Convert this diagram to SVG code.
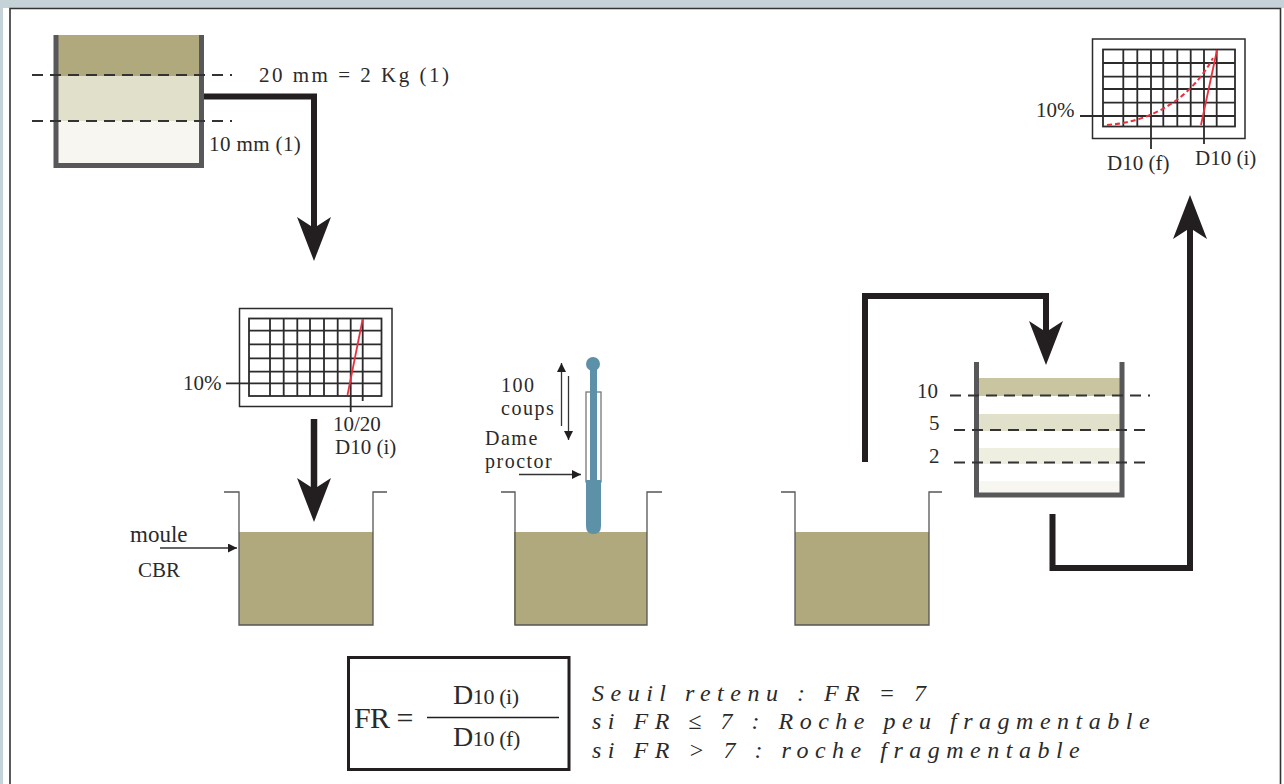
<svg xmlns="http://www.w3.org/2000/svg" width="1284" height="784" viewBox="0 0 1284 784">
<style>
text{font-family:"Liberation Serif","Times New Roman",serif;fill:#2a2a2a;font-size:21px}
.w{font-size:23px}
.n{font-size:20px;letter-spacing:1.500px}
.it{font-style:italic;font-size:24px;letter-spacing:6.500px}
.wall{fill:none;stroke:#58585a;stroke-width:5}
.dash{fill:none;stroke:#333;stroke-width:2;stroke-dasharray:11 7}
.conn{fill:none;stroke:#231f20;stroke-width:6}
.grid{fill:none;stroke:#2b2b2b;stroke-width:1.800}
.thin{fill:none;stroke:#333;stroke-width:1.300}
.mould{fill:none;stroke:#555;stroke-width:1.300}
.soil{fill:#b0a97e}
.red{fill:none;stroke:#e8303f;stroke-width:1.800}
</style>
<defs>
<marker id="big" markerUnits="userSpaceOnUse" markerWidth="44" markerHeight="34" refX="24" refY="17" orient="auto-start-reverse" viewBox="0 0 44 34"><path d="M0 0 L11 17 L0 34 L44 17 Z" fill="#231f20"/></marker>
<marker id="small" markerUnits="userSpaceOnUse" markerWidth="9" markerHeight="9" refX="8" refY="4" orient="auto-start-reverse" viewBox="0 0 8 8"><path d="M0 0 L8 4 L0 8 Z" fill="#231f20"/></marker>
</defs>
<rect width="1284" height="784" fill="#c5d3d9"/>
<rect x="3" y="8" width="1281" height="776" fill="#fff"/>
<path d="M10 784V8.500H1280.500V784" fill="none" stroke="#333" stroke-width="1.600"/>

<g id="sample-box">
<rect x="56" y="35" width="146" height="41" fill="#b0a97e"/>
<rect x="56" y="76" width="146" height="45" fill="#e1e1cb"/>
<rect x="56" y="121" width="146" height="44" fill="#f7f6f1"/>
<path class="wall" d="M56 35V165.500H201.500V35"/>
<path class="dash" d="M32 75H232M32 121H232"/>
<text x="259" y="82" style="letter-spacing:2.500px">20 mm = 2 Kg (1)</text>
<text x="209" y="151" style="letter-spacing:.4px">10 mm (1)</text>
</g>

<g id="chart-initial">
<rect x="239.500" y="308.500" width="152.500" height="98" fill="#fff" stroke="#2b2b2b" stroke-width="1.500"/>
<rect class="grid" x="249" y="318.500" width="132.500" height="77.500"/>
<path class="grid" d="M270 318.500V396M283.700 318.500V396M297.300 318.500V396M310 318.500V396M324 318.500V396M337.700 318.500V396M350.700 318.500V412M362.700 318.500V401M249 330.700H381.500M249 344.300H381.500M249 358.300H381.500M249 371.700H381.500M249 383.300H381.500M226 383.300H249"/>
<path class="red" d="M362.700 319L347.500 395"/>
<text x="183" y="390">10%</text>
<text x="333" y="431">10/20</text>
<text x="335" y="454">D10 (i)</text>
</g>

<g id="chart-final">
<rect x="1092.500" y="39" width="152.500" height="99.500" fill="#fff" stroke="#2b2b2b" stroke-width="1.500"/>
<rect class="grid" x="1103" y="49.500" width="132" height="77"/>
<path class="grid" d="M1123.300 49.500V126.500M1137.300 49.500V126.500M1151 49.500V149M1163.300 49.500V126.500M1177.300 49.500V126.500M1190.700 49.500V126.500M1204 49.500V144M1216.700 49.500V126.500M1103 63H1235M1103 76.700H1235M1103 89H1235M1103 102.700H1235M1080 116H1235"/>
<path class="red" d="M1217 50L1201 125"/>
<path class="red" style="stroke-dasharray:5 3;stroke-width:2" d="M1107 125C1150 122 1190 100 1213 58"/>
<text x="1036" y="117">10%</text>
<text x="1107" y="170">D10 (f)</text>
<text x="1195" y="165">D10 (i)</text>
</g>

<g id="mould-1">
<rect class="soil" x="239" y="532" width="134" height="93"/>
<path class="mould" d="M224 492H239V625H373V492H387"/>
<text class="w" x="130" y="542">moule</text>
<text x="138" y="577">CBR</text>
<path class="thin" d="M160 548H237" marker-end="url(#small)"/>
</g>

<g id="mould-2">
<rect class="soil" x="514" y="532" width="133" height="93"/>
<path class="mould" d="M501 492H515V625H647V492H662"/>
<rect x="586" y="392" width="15" height="90" fill="#fff" stroke="#777" stroke-width="1.300"/>
<path d="M590 362H597V480H601V526Q601 534 593.500 534Q586 534 586 526V480H590Z" fill="#5d91a8"/>
<circle cx="593" cy="364" r="7" fill="#5d91a8"/>
<text class="n" x="501" y="392">100</text>
<text class="n" x="501" y="415">coups</text>
<text class="n" x="485" y="445">Dame</text>
<text class="n" x="485" y="468">proctor</text>
<path class="thin" d="M561.500 426V363" marker-end="url(#small)"/>
<path class="thin" d="M568.500 376V440" marker-end="url(#small)"/>
<path class="thin" d="M519 474.500H581" marker-end="url(#small)"/>
</g>

<g id="mould-3">
<rect class="soil" x="795" y="532" width="134" height="93"/>
<path class="mould" d="M781 492H795V625H929V492H942"/>
</g>

<g id="sieve-box">
<rect x="977" y="378" width="145" height="18" fill="#c9c5a0"/>
<rect x="977" y="414" width="145" height="17" fill="#e1e1cb"/>
<rect x="977" y="448" width="145" height="16" fill="#eeeee1"/>
<rect x="977" y="481" width="145" height="14" fill="#f7f6f1"/>
<path class="wall" d="M976.500 362V495H1122V362"/>
<path class="dash" d="M950 395.500H1150M954 430H1151M954 462.500H1151"/>
<text x="917" y="398">10</text>
<text x="929" y="430">5</text>
<text x="929" y="463">2</text>
</g>

<g id="connectors">
<path class="conn" d="M204 96.500H314V241" marker-end="url(#big)"/>
<path class="conn" d="M314 419V502" marker-end="url(#big)" style="stroke-width:6.500"/>
<path class="conn" d="M865 462V296H1046V345" marker-end="url(#big)"/>
<path class="conn" d="M1052.500 514V568H1190V215" marker-end="url(#big)"/>
</g>

<g id="formula">
<rect x="348.500" y="657.500" width="220.500" height="112" fill="#fff" stroke="#231f20" stroke-width="3"/>
<text x="354" y="728" style="font-size:30px;letter-spacing:-.6px">FR =</text>
<path d="M427 717.500H559" stroke="#231f20" stroke-width="1.500" fill="none"/>
<text x="453" y="704" style="font-size:28px;letter-spacing:-.4px">D<tspan style="font-size:22px">10 (i)</tspan></text>
<text x="453" y="746" style="font-size:28px;letter-spacing:-.4px">D<tspan style="font-size:22px">10 (f)</tspan></text>
</g>

<g id="notes">
<text class="it" x="592" y="701">Seuil retenu : FR = 7</text>
<text class="it" x="592" y="729">si FR ≤ 7 : Roche peu fragmentable</text>
<text class="it" x="592" y="758">si FR &gt; 7 : roche fragmentable</text>
</g>
</svg>
